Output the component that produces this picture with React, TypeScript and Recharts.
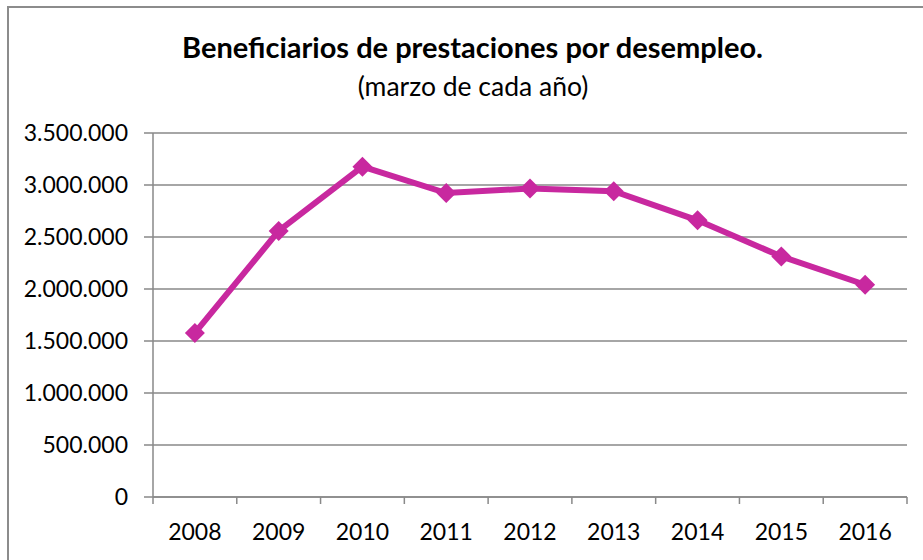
import React from 'react';
import { LineChart, Line, XAxis, YAxis, CartesianGrid } from 'recharts';

const years = ['2008', '2009', '2010', '2011', '2012', '2013', '2014', '2015', '2016'];
const beneficiarios = [1578000, 2558000, 3176000, 2923000, 2967000, 2940000, 2660000, 2313000, 2041000];
const yTicks = [0, 500000, 1000000, 1500000, 2000000, 2500000, 3000000, 3500000];

const data = years.map((year, i) => ({ year, value: beneficiarios[i] }));

const FONT = 'Lato, "Open Sans", sans-serif';
const GRAY = '#898989';
const MAGENTA = '#C8289F';
const X_MARGIN = 26;

const fmt = (v: number) => String(v).replace(/\B(?=(\d{3})+(?!\d))/g, '.');

function Diamond(props: any) {
    const { cx, cy } = props;
    if (cx == null || cy == null) return null;
    const r = 10;
    return (
        <polygon
            points={`${cx},${cy - r} ${cx + r},${cy} ${cx},${cy + r} ${cx - r},${cy}`}
            fill={MAGENTA}
        />
    );
}

function YearTick(props: any) {
    const { x, y, payload, index, visibleTicksCount } = props;
    const half = payload && payload.offset ? payload.offset : 41.9;
    const axisY = y - X_MARGIN;
    const isLast = index === visibleTicksCount - 1;
    return (
        <g>
            <line x1={x - half} x2={x - half} y1={axisY} y2={axisY + 7} stroke={GRAY} strokeWidth={1.5} />
            {isLast && (
                <line x1={x + half} x2={x + half} y1={axisY} y2={axisY + 7} stroke={GRAY} strokeWidth={1.5} />
            )}
            <text x={x} y={y} dy="0.72em" textAnchor="middle" fill="#000" fontSize={23} fontFamily={FONT}>
                {payload.value}
            </text>
        </g>
    );
}

export default function App() {
    return (
        <div
            style={{
                position: 'absolute',
                left: 0,
                top: 0,
                width: 923,
                height: 560,
                overflow: 'hidden',
                background: '#fff',
                fontFamily: FONT,
            }}
        >
            <div
                style={{
                    position: 'absolute',
                    left: 7,
                    top: 6,
                    width: 1000,
                    height: 700,
                    borderLeft: '2px solid #8c8c8c',
                    borderTop: '2px solid #8c8c8c',
                }}
            />
            <div
                style={{
                    position: 'absolute',
                    left: 0,
                    width: 945,
                    top: 30,
                    textAlign: 'center',
                    fontWeight: 700,
                    fontSize: 29,
                    lineHeight: '34px',
                    color: '#000',
                }}
            >
                Beneficiarios de prestaciones por desempleo.
            </div>
            <div
                style={{
                    position: 'absolute',
                    left: 0,
                    width: 946,
                    top: 70,
                    textAlign: 'center',
                    fontSize: 26.5,
                    lineHeight: '32px',
                    color: '#000',
                }}
            >
                (marzo de cada año)
            </div>
            <div style={{ position: 'absolute', left: 0, top: 0 }}>
                <LineChart
                    width={923}
                    height={560}
                    data={data}
                    margin={{ top: 133, right: 16, left: 0, bottom: 0 }}
                >
                    <CartesianGrid vertical={false} stroke={GRAY} strokeWidth={1.5} />
                    <XAxis
                        dataKey="year"
                        scale="band"
                        height={63}
                        axisLine={{ stroke: GRAY, strokeWidth: 1.5 }}
                        tickLine={false}
                        tickSize={0}
                        tickMargin={X_MARGIN}
                        tick={<YearTick />}
                        interval={0}
                    />
                    <YAxis
                        width={153}
                        domain={[0, 3500000]}
                        ticks={yTicks}
                        interval={0}
                        tickFormatter={fmt}
                        axisLine={{ stroke: GRAY, strokeWidth: 1.5 }}
                        tickLine={{ stroke: GRAY, strokeWidth: 1.5 }}
                        tickSize={9}
                        tickMargin={16}
                        tick={{ fill: '#000', fontSize: 23, fontFamily: FONT }}
                    />
                    <Line
                        dataKey="value"
                        type="linear"
                        stroke={MAGENTA}
                        strokeWidth={6}
                        dot={<Diamond />}
                        activeDot={false}
                        isAnimationActive={false}
                    />
                </LineChart>
            </div>
        </div>
    );
}
